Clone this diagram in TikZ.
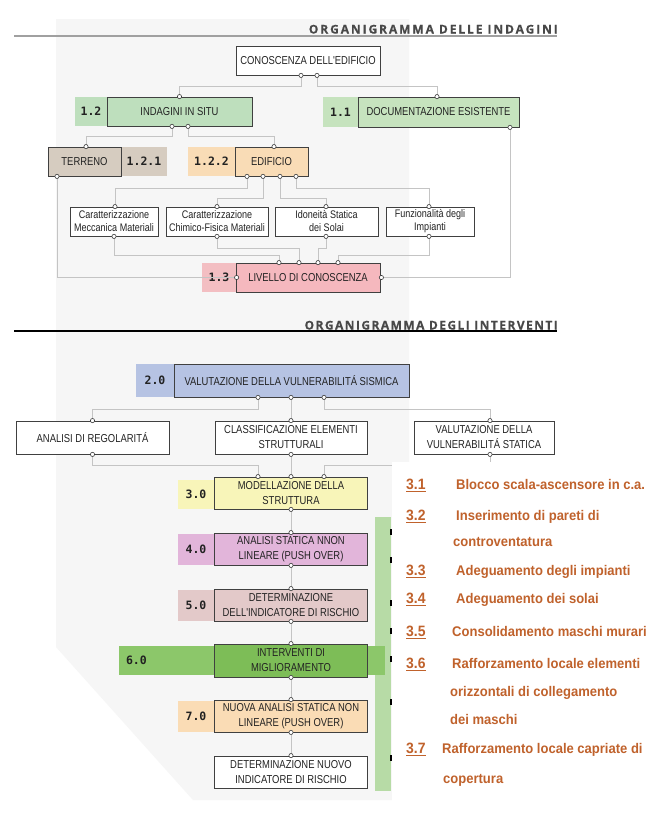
\documentclass[tikz,border=0pt]{standalone}
\usepackage{fontspec}
\setmainfont{Liberation Sans}
\newfontfamily\narrowf[FakeStretch=0.82]{Liberation Sans}
\newfontfamily\nmfam{DejaVu Sans Mono}
\newfontfamily\titlef[LetterSpace=16, BoldFeatures={FakeBold=0.5}]{Open Sans}
\newfontfamily\titleg[LetterSpace=12, BoldFeatures={FakeBold=0.5}]{Open Sans}
\newfontfamily\listfam[FakeStretch=0.93]{Liberation Sans}
\usetikzlibrary{calc}
\definecolor{panelc}{HTML}{F6F6F6}
\definecolor{connc}{HTML}{C4C4C4}
\definecolor{portc}{HTML}{3A3A3A}
\definecolor{boxc}{HTML}{404040}
\definecolor{txtc}{HTML}{222222}
\definecolor{gA}{HTML}{BEDFBD}
\definecolor{gB}{HTML}{C6E3BE}
\definecolor{terrc}{HTML}{D6CCC0}
\definecolor{edifc}{HTML}{F9DCB6}
\definecolor{livc}{HTML}{F5B8BE}
\definecolor{livs}{HTML}{F3BEC2}
\definecolor{valsc}{HTML}{B6C3E3}
\definecolor{modc}{HTML}{F8F5B9}
\definecolor{anc}{HTML}{E2B5DA}
\definecolor{detc}{HTML}{E3C9C9}
\definecolor{gsix}{HTML}{8CC76A}
\definecolor{gsixb}{HTML}{7DBD57}
\definecolor{nuoc}{HTML}{FADCB5}
\definecolor{gbar}{HTML}{B7DBA6}
\definecolor{listc}{HTML}{C0622C}
\definecolor{titlec}{HTML}{484848}
\definecolor{lineg}{HTML}{A0A0A0}
\newcommand\bxf{\narrowf\fontsize{11.5}{15}\selectfont}
\newcommand\smf{\narrowf\fontsize{11}{13}\selectfont}
\newcommand\nmf{\nmfam\bfseries\fontsize{11.5}{12}\selectfont}
\newcommand\ttf{\titlef\bfseries\fontsize{12}{12}\selectfont}
\newcommand\ttg{\titleg\bfseries\fontsize{12}{12}\selectfont}
\newcommand\lsf{\listfam\bfseries\fontsize{14}{15}\selectfont}
\newcommand\ulnum[1]{{\fontsize{15}{15}\selectfont\setbox0\hbox{#1}\rlap{\rule[-3.4pt]{\wd0}{1.3pt}}\box0}}
\begin{document}
\begin{tikzpicture}[x=1pt,y=-1pt,
  box/.style={draw=boxc, line width=0.8pt, inner sep=0pt, align=center, font=\bxf, text=txtc},
  sbox/.style={box, font=\smf, minimum height=29},
  lab/.style={inner sep=0pt, font=\nmf, text=txtc},
  conn/.style={draw=connc, line width=0.7pt},
  port/.style={draw=portc, fill=white, line width=0.6pt},
  lst/.style={anchor=base west, inner sep=0pt, font=\lsf, text=listc},
  ttl/.style={anchor=base east, inner sep=0pt, font=\ttf, text=titlec}]
\useasboundingbox (0,0) rectangle (664,819);
\fill[white] (0,0) rectangle (664,819);
% background panel
\fill[panelc] (56,19) -- (409,19) -- (409,800) -- (193,800) -- (56,647) -- cycle;
% titles
\draw[lineg, line width=2pt] (14,35.5) -- (557,35.5);
\node[ttl] (t1) at (558,33.5) {ORGANIGRAMMA DELLE INDAGINI};
\draw[black, line width=1.3pt] (14,331) -- (557,331);
\node[ttl, font=\ttg] (t2) at (558,329.5) {ORGANIGRAMMA DEGLI INTERVENTI};

% ===== top section nodes =====
\node[box, fill=white, minimum width=144, minimum height=29] (cono) at (308,60.5) {CONOSCENZA DELL'EDIFICIO};
\node[lab, fill=gA, minimum width=32, minimum height=29] (l12) at (91,111.5) {1.2};
\node[box, fill=gA, minimum width=145, minimum height=29] (situ) at (179.5,111.5) {INDAGINI IN SITU};
\node[lab, fill=gB, minimum width=35, minimum height=30] (l11) at (340.5,112) {1.1};
\node[box, fill=gB, minimum width=161, minimum height=30] (doc) at (438.5,112) {DOCUMENTAZIONE ESISTENTE};
\node[lab, fill=terrc, minimum width=46, minimum height=29] (l121) at (144,161.5) {1.2.1};
\node[box, fill=terrc, minimum width=73, minimum height=29] (terr) at (84.5,161.5) {TERRENO};
\node[lab, fill=edifc, minimum width=47, minimum height=29] (l122) at (211.5,161.5) {1.2.2};
\node[box, fill=edifc, minimum width=73, minimum height=29] (edif) at (271.5,161.5) {EDIFICIO};
\node[sbox, fill=white, minimum width=88] (mec) at (114,221.5) {Caratterizzazione\\Meccanica Materiali};
\node[sbox, fill=white, minimum width=102] (chim) at (217,221.5) {Caratterizzazione\\Chimico-Fisica Materiali};
\node[sbox, fill=white, minimum width=103] (idon) at (326.5,221.5) {Idoneità Statica\\dei Solai};
\node[sbox, fill=white, minimum width=88] (funz) at (430,221.5) {Funzionalità degli\\Impianti};
\node[lab, fill=livs, minimum width=34, minimum height=29] (l13) at (219,277.5) {1.3};
\node[box, fill=livc, minimum width=144, minimum height=29] (liv) at (308,277.5) {LIVELLO DI CONOSCENZA};

% ===== top connectors =====
\draw[conn] ([xshift=-7pt]cono.south) -- ++(0,11) -| (situ.north);
\draw[conn] ([xshift=9pt]cono.south) -- ++(0,11) -| ([xshift=-1.5pt]doc.north);
\draw[conn] ([xshift=-7.5pt]situ.south) -- ++(0,10) -| ([xshift=1.5pt]terr.north);
\draw[conn] ([xshift=8.5pt]situ.south) -- ++(0,10) -| ([xshift=2.5pt]edif.north);
\draw[conn] ([xshift=-24.5pt]edif.south) -- ++(0,12) -| ([xshift=1pt]mec.north);
\draw[conn] ([xshift=-8.5pt]edif.south) -- ++(0,22) -| (chim.north);
\draw[conn] ([xshift=8.5pt]edif.south) -- ++(0,22) -| ([xshift=-0.5pt]idon.north);
\draw[conn] ([xshift=24.5pt]edif.south) -- ++(0,12) -| ([xshift=-1pt]funz.north);
\draw[conn] (mec.south) -- ++(0,19) -| ([xshift=-29pt]liv.north);
\draw[conn] (chim.south) -- ++(0,12) -| ([xshift=-9pt]liv.north);
\draw[conn] ([xshift=-0.5pt]idon.south) -- ++(0,12) -| ([xshift=10pt]liv.north);
\draw[conn] ([xshift=-1pt]funz.south) -- ++(0,19) -| ([xshift=30pt]liv.north);
\draw[conn] ([xshift=-27.5pt]terr.south) |- (liv.west);
\draw[conn] ([xshift=71.5pt]doc.south) |- (liv.east);

% ===== middle / bottom nodes =====
\node[lab, fill=valsc, minimum width=38, minimum height=33] (l20) at (155,380.5) {2.0};
\node[box, fill=valsc, minimum width=235, minimum height=33] (vals) at (291.5,380.5) {VALUTAZIONE DELLA VULNERABILITÁ SISMICA};
\node[box, fill=white, minimum width=153, minimum height=33] (anreg) at (92.5,437.5) {ANALISI DI REGOLARITÁ};
\node[box, fill=white, minimum width=152, minimum height=33] (class) at (291,437.5) {CLASSIFICAZIONE ELEMENTI\\STRUTTURALI};
\node[box, fill=white, minimum width=140, minimum height=33] (valstat) at (484,437.5) {VALUTAZIONE DELLA\\VULNERABILITÁ STATICA};

% connectors (drawn before list panel)
\draw[conn] ([xshift=-33.5pt]vals.south) -- ++(0,12) -| (anreg.north);
\draw[conn] ([xshift=-0.5pt]vals.south) -- (class.north);
\draw[conn] ([xshift=32.5pt]vals.south) -- ++(0,12) -| ([xshift=6pt]valstat.north);
\draw[conn] (anreg.south) -- ++(0,11) -| (258,477);
\draw[conn] (class.south) -- (291,477);
\draw[conn] ([xshift=6pt]valstat.south) -- ++(0,11) -| (324,477);

% list panel and green bar
\fill[white] (392,462) rectangle (664,819);
\fill[gbar] (375,517) rectangle (391,791);
\foreach \yy in {532,560,603,631,659,702,758}
  \draw[black, line width=1.3pt] (391,\yy-3) -- (391,\yy+3);

\node[lab, fill=modc, minimum width=36, minimum height=29] (l30) at (196,494) {3.0};
\node[box, fill=modc, minimum width=153, minimum height=32] (mod) at (291,493) {MODELLAZIONE DELLA\\STRUTTURA};
\node[lab, fill=anc, minimum width=36, minimum height=31] (l40) at (196,549) {4.0};
\node[box, fill=anc, minimum width=153, minimum height=32] (an4) at (291,549) {ANALISI STATICA NNON\\LINEARE (PUSH OVER)};
\node[lab, fill=detc, minimum width=36, minimum height=31] (l50) at (196,605) {5.0};
\node[box, fill=detc, minimum width=153, minimum height=32] (det5) at (291,605) {DETERMINAZIONE\\DELL'INDICATORE DI RISCHIO};
\node[lab, fill=gsix, minimum width=266, minimum height=29, text width=252, align=left] (l60) at (252,660.5) {6.0};
\node[box, fill=gsixb, minimum width=153, minimum height=33] (int6) at (291,660.5) {INTERVENTI DI\\MIGLIORAMENTO};
\node[lab, fill=nuoc, minimum width=36, minimum height=31] (l70) at (196,716) {7.0};
\node[box, fill=nuoc, minimum width=153, minimum height=32] (nuo7) at (291,716) {NUOVA ANALISI STATICA NON\\LINEARE (PUSH OVER)};
\node[box, fill=white, minimum width=153, minimum height=32] (detn) at (291,772) {DETERMINAZIONE NUOVO\\INDICATORE DI RISCHIO};

% vertical chain
\draw[conn] (mod.south) -- (an4.north);
\draw[conn] (an4.south) -- (det5.north);
\draw[conn] (det5.south) -- (int6.north);
\draw[conn] (int6.south) -- (nuo7.north);
\draw[conn] (nuo7.south) -- (detn.north);

% ===== ports =====
\foreach \pp in {
  ([xshift=-7pt]cono.south), ([xshift=9pt]cono.south),
  (situ.north), ([xshift=-7.5pt]situ.south), ([xshift=8.5pt]situ.south),
  ([xshift=-1.5pt]doc.north), ([xshift=71.5pt]doc.south),
  ([xshift=1.5pt]terr.north), ([xshift=-27.5pt]terr.south),
  ([xshift=2.5pt]edif.north), ([xshift=-24.5pt]edif.south), ([xshift=-8.5pt]edif.south),
  ([xshift=8.5pt]edif.south), ([xshift=24.5pt]edif.south),
  ([xshift=1pt]mec.north), (mec.south), (chim.north), (chim.south),
  ([xshift=-0.5pt]idon.north), ([xshift=-0.5pt]idon.south),
  ([xshift=-1pt]funz.north), ([xshift=-1pt]funz.south),
  ([xshift=-29pt]liv.north), ([xshift=-9pt]liv.north), ([xshift=10pt]liv.north), ([xshift=30pt]liv.north),
  ([xshift=1pt]liv.west), ([xshift=1pt]liv.east),
  ([xshift=-33.5pt]vals.south), ([xshift=-0.5pt]vals.south), ([xshift=32.5pt]vals.south),
  (anreg.north), (anreg.south), (class.north), (class.south),
  ([xshift=6pt]valstat.north), ([xshift=6pt]valstat.south),
  ([xshift=-33pt]mod.north), (mod.north), ([xshift=33pt]mod.north), (mod.south),
  (an4.north), (an4.south), (det5.north), (det5.south),
  (int6.north), (int6.south), (nuo7.north), (nuo7.south), (detn.north)}
  \draw[port] \pp circle (2.1);

% ===== list =====
\node[lst] (n31) at (406,489) {\ulnum{3.1}};
\node[lst] (i31) at (456,489) {Blocco scala-ascensore in c.a.};
\node[lst] (n32) at (406,520) {\ulnum{3.2}};
\node[lst] (i32) at (456,520) {Inserimento di pareti di};
\node[lst] (i32b) at (453,546) {controventatura};
\node[lst] (n33) at (406,575) {\ulnum{3.3}};
\node[lst] (i33) at (456,575) {Adeguamento degli impianti};
\node[lst] (n34) at (406,603) {\ulnum{3.4}};
\node[lst] (i34) at (456,603) {Adeguamento dei solai};
\node[lst] (n35) at (406,636) {\ulnum{3.5}};
\node[lst] (i35) at (452,636) {Consolidamento maschi murari};
\node[lst] (n36) at (406,668) {\ulnum{3.6}};
\node[lst] (i36) at (452,668) {Rafforzamento locale elementi};
\node[lst] (i36b) at (450,696) {orizzontali di collegamento};
\node[lst] (i36c) at (450,724) {dei maschi};
\node[lst] (n37) at (406,753) {\ulnum{3.7}};
\node[lst] (i37) at (442,753) {Rafforzamento locale capriate di};
\node[lst] (i37b) at (443,783) {copertura};
\end{tikzpicture}
\end{document}
